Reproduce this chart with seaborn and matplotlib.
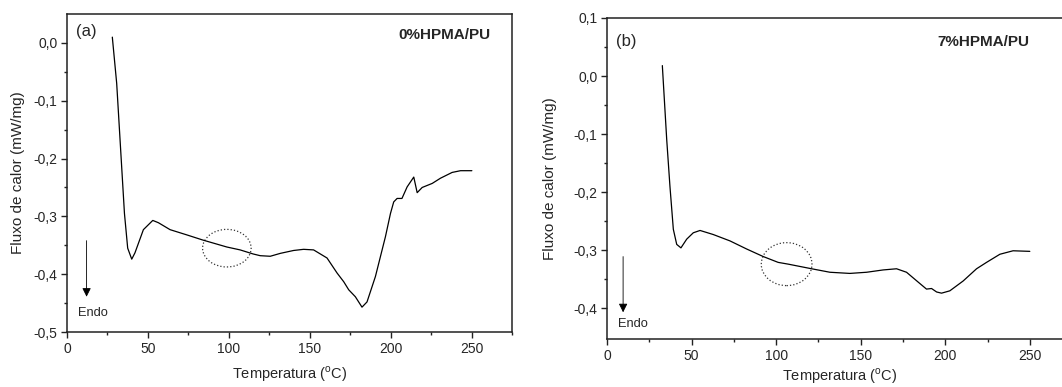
import matplotlib
matplotlib.use("Agg")
import matplotlib.pyplot as plt
import seaborn as sns
import pandas as pd
from matplotlib.patches import Ellipse

# Panel (a): 0%HPMA/PU
temp_a = [28, 30.7, 35.5, 37.5, 40, 42, 47.2, 53, 56.5, 63.7, 74, 84, 98.8, 107, 115,
          119.4, 125.6, 131.8, 140, 146.2, 152.4, 160.7, 166.9, 171, 174.1, 178.2, 182.3,
          185.4, 190.6, 196.8, 199.9, 201.9, 204, 207, 210.2, 214.3, 216.4, 219.5, 225.7,
          230.8, 238, 243.2, 250.2]
flux_a = [0.01, -0.07, -0.295, -0.355, -0.374, -0.363, -0.323, -0.307, -0.311, -0.323,
          -0.332, -0.341, -0.353, -0.358, -0.365, -0.368, -0.369, -0.364, -0.359, -0.357,
          -0.358, -0.372, -0.398, -0.413, -0.427, -0.439, -0.457, -0.448, -0.404, -0.335,
          -0.295, -0.275, -0.269, -0.269, -0.249, -0.232, -0.259, -0.25, -0.243, -0.234,
          -0.224, -0.221, -0.221]

# Panel (b): 7%HPMA/PU
temp_b = [32.7, 35.3, 37.2, 39.2, 41.2, 43.7, 47.1, 51, 55, 62.8, 72.7, 82.6, 92.4, 101.2,
          107.1, 121, 131.8, 143.6, 153.5, 163.3, 171.2, 177.1, 184, 188.9, 191.9, 194.9,
          197.8, 202.7, 210.6, 218.5, 224.4, 232.3, 240.1, 250]
flux_b = [0.018, -0.11, -0.19, -0.264, -0.29, -0.296, -0.281, -0.27, -0.266, -0.273,
          -0.284, -0.298, -0.311, -0.321, -0.324, -0.332, -0.338, -0.34, -0.338, -0.334,
          -0.332, -0.338, -0.355, -0.367, -0.366, -0.372, -0.374, -0.37, -0.353, -0.332,
          -0.321, -0.307, -0.301, -0.302]

sample_labels = ["0%HPMA/PU", "7%HPMA/PU"]
panel_labels = ["(a)", "(b)"]
x_ticks = [0, 50, 100, 150, 200, 250]
y_ticks_a = [-0.5, -0.4, -0.3, -0.2, -0.1, 0.0]
y_ticks_b = [-0.4, -0.3, -0.2, -0.1, 0.0, 0.1]

sns.set_style("ticks")
plt.rcParams['font.family'] = ['Liberation Sans', 'DejaVu Sans']
plt.rcParams['mathtext.fontset'] = 'custom'
plt.rcParams['mathtext.rm'] = 'Liberation Sans'

fig = plt.figure(figsize=(10.62, 3.87), dpi=100)
ax_a = fig.add_axes([0.0631, 0.1421, 0.419, 0.8217])
ax_b = fig.add_axes([0.5716, 0.124, 0.4379, 0.8295])

df_a = pd.DataFrame({"T": temp_a, "F": flux_a})
df_b = pd.DataFrame({"T": temp_b, "F": flux_b})

def fmt(v):
    return f"{v:.1f}".replace(".", ",")

def style(ax, yticks, ylim, xpad, ypad):
    ax.set_xlim(0, 275)
    ax.set_ylim(*ylim)
    ax.set_xticks(x_ticks)
    ax.set_xticklabels([str(t) for t in x_ticks], fontsize=10)
    ax.set_xticks([25, 75, 125, 175, 225, 275], minor=True)
    ax.set_yticks(yticks)
    ax.set_yticklabels([fmt(v) for v in yticks], fontsize=10)
    ax.set_yticks([v + 0.05 for v in yticks[:-1]], minor=True)
    ax.tick_params(axis='both', which='major', direction='out', length=4, width=1, color='#222222', pad=3)
    ax.tick_params(axis='both', which='minor', direction='out', length=2.5, width=1, color='#222222')
    for s in ax.spines.values():
        s.set_visible(True)
        s.set_linewidth(1.1)
        s.set_color('#222222')
    ax.set_xlabel("Temperatura ($^{\\mathrm{o}}$C)", fontsize=10.5, labelpad=xpad)
    ax.set_ylabel("Fluxo de calor (mW/mg)", fontsize=11, labelpad=ypad)

sns.lineplot(data=df_a, x="T", y="F", ax=ax_a, color='black', linewidth=0.9, sort=False)
sns.lineplot(data=df_b, x="T", y="F", ax=ax_b, color='black', linewidth=0.9, sort=False)

style(ax_a, y_ticks_a, (-0.5, 0.05), 6, 6)
style(ax_b, y_ticks_b, (-0.453, 0.1), 2.5, 12)

# annotations panel (a)
ax_a.text(5.5, 0.02, panel_labels[0], fontsize=12, va='center', ha='left')
ax_a.text(262, 0.014, sample_labels[0], fontsize=11, fontweight='bold', va='center', ha='right')
ax_a.add_patch(Ellipse((98.8, -0.355), 30, 0.065, fill=False, ls=':', lw=0.9, ec='#333333'))
ax_a.annotate("", xy=(12.1, -0.439), xytext=(12.1, -0.342),
              arrowprops=dict(arrowstyle='-|>', color='black', lw=0.6, mutation_scale=13,
                              shrinkA=0, shrinkB=0))
ax_a.text(6.5, -0.467, "Endo", fontsize=9.3, va='center', ha='left')

# annotations panel (b)
ax_b.text(5.5, 0.059, panel_labels[1], fontsize=12, va='center', ha='left')
ax_b.text(250, 0.059, sample_labels[1], fontsize=11, fontweight='bold', va='center', ha='right')
ax_b.add_patch(Ellipse((106.2, -0.324), 30, 0.074, fill=False, ls=':', lw=0.9, ec='#333333'))
ax_b.annotate("", xy=(9.5, -0.407), xytext=(9.5, -0.311),
              arrowprops=dict(arrowstyle='-|>', color='black', lw=0.6, mutation_scale=13,
                              shrinkA=0, shrinkB=0))
ax_b.text(6.5, -0.427, "Endo", fontsize=9.3, va='center', ha='left')

fig.savefig("out.png", dpi=100)
